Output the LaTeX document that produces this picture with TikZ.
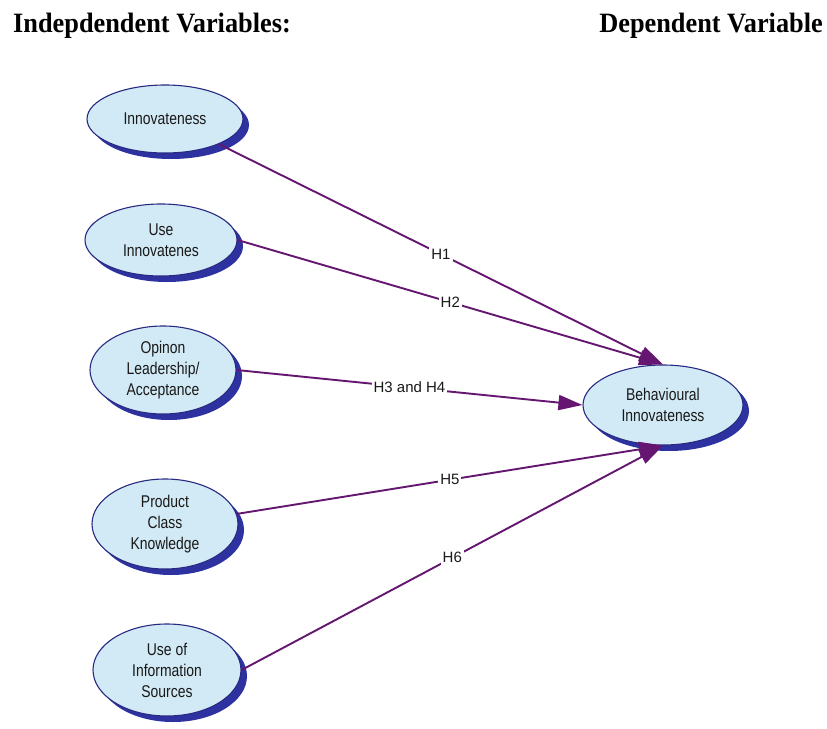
\documentclass[tikz,border=0pt]{standalone}
\usepackage{fontspec}
\setmainfont{Liberation Sans}
\newfontfamily\varfont[FakeStretch=0.82]{Liberation Sans}
\newfontfamily\headfont[FakeStretch=0.94]{Liberation Serif}
\usetikzlibrary{shapes.geometric,shadows,arrows.meta}
\definecolor{varfill}{RGB}{210,234,245}
\definecolor{varborder}{RGB}{40,42,130}
\definecolor{varshadow}{RGB}{45,50,160}
\definecolor{linkpurple}{RGB}{100,22,112}
\definecolor{inktext}{RGB}{25,25,25}
\tikzset{
  varnode/.style={ellipse, draw=varborder, line width=1.1pt, fill=varfill,
    inner sep=0pt, align=center, text=inktext,
    font=\varfont\fontsize{17}{21}\selectfont,
    drop shadow={shadow xshift=6pt, shadow yshift=-6pt, fill=varshadow, opacity=1}},
  link/.style={draw=linkpurple, line width=1.9pt,
    -{Triangle[length=24pt,width=15pt]}},
  hyp/.style={fill=white, inner sep=2pt, text=inktext,
    font=\fontsize{15}{18}\selectfont},
  heading/.style={font=\headfont\bfseries\fontsize{28}{32}\selectfont, inner sep=0pt}
}
\begin{document}
\begin{tikzpicture}[x=1pt,y=-1pt]
  \useasboundingbox[fill=white] (0,0) rectangle (827,728);

  % column headings
  \node[heading, anchor=base west] (hleft) at (13,32) {Indepdendent Variables:};
  \node[heading, anchor=base east] (hright) at (823,32) {Dependent Variable};

  % independent variables
  \node[varnode, minimum width=156pt, minimum height=68pt] (inn) at (165,119) {Innovateness};
  \node[varnode, minimum width=152pt, minimum height=72pt] (use) at (161,240) {Use\\Innovatenes};
  \node[varnode, minimum width=146pt, minimum height=88pt] (opl) at (163,370) {Opinon\\Leadership/\\Acceptance};
  \node[varnode, minimum width=146pt, minimum height=90pt] (pck) at (165,524) {Product\\Class\\Knowledge};
  \node[varnode, minimum width=148pt, minimum height=92pt] (uis) at (167,670) {Use of\\Information\\Sources};

  % dependent variable
  \node[varnode, minimum width=160pt, minimum height=80pt] (beh) at (663,405) {Behavioural\\Innovateness};

  % hypotheses
  \draw[link] (inn.-25) -- node[hyp] {H1} (beh.north);
  \draw[link] (use.east) -- node[hyp] {H2} (beh.north);
  \draw[link] (opl.east) -- node[hyp] {H3 and H4} (beh.west);
  \draw[link] (pck.8) -- node[hyp] {H5} (beh.south);
  \draw[link] (uis.east) -- node[hyp] {H6} (beh.south);
\end{tikzpicture}
\end{document}
